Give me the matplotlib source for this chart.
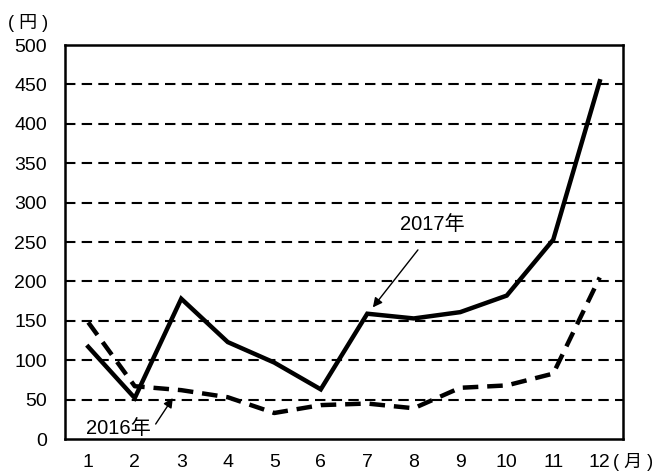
import matplotlib.pyplot as plt

plt.rcParams['font.family'] = ['Liberation Sans', 'Noto Sans CJK JP']

months = [1, 2, 3, 4, 5, 6, 7, 8, 9, 10, 11, 12]
month_labels = ['1', '2', '3', '4', '5', '6', '7', '8', '9', '10', '11', '12']
y2017 = [117, 52, 178, 123, 97, 63, 159, 153, 161, 182, 253, 454]
y2016 = [148, 67, 62, 53, 33, 43, 45, 39, 65, 68, 83, 205]

fig = plt.figure(figsize=(6.56, 4.76), dpi=100)
ax = fig.add_axes([65 / 656, 1 - 439 / 476, 558 / 656, 394 / 476])

for v in range(50, 500, 50):
    ax.axhline(v, color='black', lw=1.5, ls=(0, (5, 3)), zorder=1)

ax.plot(months, y2017, color='black', lw=3.2, solid_joinstyle='miter', zorder=3)
ax.plot(months, y2016, color='black', lw=3.2, ls=(0, (3.5, 2)), zorder=3)

ax.set_xlim(0.5, 12.5)
ax.set_ylim(0, 500)
ax.set_yticks(range(0, 501, 50))
ax.set_xticks(months)
ax.set_xticklabels(month_labels)
ax.tick_params(length=0, labelsize=14)
ax.tick_params(axis='y', pad=13)
ax.tick_params(axis='x', pad=11)
for s in ax.spines.values():
    s.set_linewidth(1.8)

# labels and arrows
ax.text(8.4, 272, '2017年', fontsize=14.5, ha='center', va='center')
ax.annotate('', xy=(7.12, 167), xytext=(8.09, 240),
            arrowprops=dict(arrowstyle='-|>', color='black', lw=1, mutation_scale=14,
                            shrinkA=0, shrinkB=0))
ax.text(1.64, 13, '2016年', fontsize=14.5, ha='center', va='center')
ax.annotate('', xy=(2.82, 52), xytext=(2.45, 19),
            arrowprops=dict(arrowstyle='-|>', color='black', lw=1, mutation_scale=14,
                            shrinkA=0, shrinkB=0))

fig.text(8 / 656, 1 - 23 / 476, '( 円 )', fontsize=13, ha='left', va='center')
fig.text(613 / 656, 1 - 462 / 476, '( 月 )', fontsize=13, ha='left', va='center')

fig.savefig('out.png', dpi=100)
